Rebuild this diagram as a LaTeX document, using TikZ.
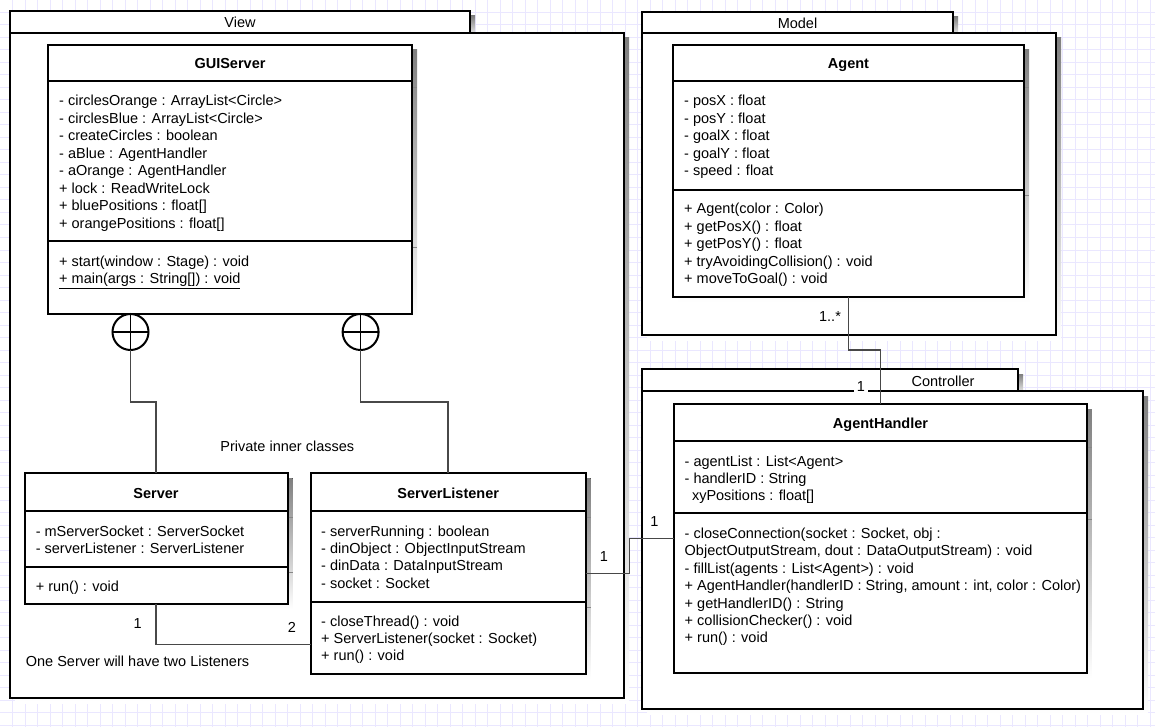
\documentclass[tikz,border=0pt]{standalone}
\usepackage{fontspec}
\setmainfont{Liberation Sans}

\definecolor{gridline}{RGB}{234,231,255}
\definecolor{shade}{RGB}{180,180,180}
\definecolor{wire}{RGB}{72,72,72}

% a column of class members, aligned on the baseline of its first line
\newcommand\members[1]{\begin{tabular}[t]{@{}l@{}}#1\end{tabular}}
% a framed box with its drop shadow: name, left, top, width, height
\newcommand\umlbox[5]{%
  \fill[shade] (#2+5,#3+5) rectangle (#2+#4+5,#3+#5+5);
  \node[box,minimum width=#4pt,minimum height=#5pt] (#1) at (#2,#3) {};}

\begin{document}
\begin{tikzpicture}[x=1pt,y=-1pt,
  font=\fontsize{14.5}{17.43}\selectfont,
  box/.style={draw=black,line width=2pt,fill=white,inner sep=0pt,outer sep=0pt,anchor=north west},
  sep/.style={black,line width=2pt},
  sepshade/.style={shade!75!black,line width=0.8pt},
  mem/.style={anchor=base west,inner sep=0pt},
  title/.style={anchor=base,inner sep=0pt,font=\fontsize{14.5}{17.43}\selectfont\bfseries},
  caption/.style={anchor=base,inner sep=0pt},
  mult/.style={anchor=base,inner sep=0pt},
  wire/.style={draw=wire,line width=1.6pt},
  nest/.style={circle,draw=black,line width=2pt,fill=white,minimum size=36pt,inner sep=0pt,outer sep=0pt},
  cross/.style={black,line width=1.6pt}]

% canvas and grid
\fill[white] (0,0) rectangle (1155,727);
\useasboundingbox (0,0) rectangle (1155,727);
\foreach \i in {1,...,92} \draw[gridline,line width=1pt] (\i*12.5,0) -- (\i*12.5,727);
\foreach \j in {1,...,58} \draw[gridline,line width=1pt] (0,\j*12.5) -- (1155,\j*12.5);

% ---------- packages ----------
\umlbox{viewtab}{10}{11}{460}{22}
\umlbox{view}{10}{33}{614}{665}
\node[caption] (viewname) at (240,28) {View};

\umlbox{modeltab}{642}{12}{311}{21}
\umlbox{model}{642}{33}{414}{302}
\node[caption] (modelname) at (797.5,28.3) {Model};

\umlbox{ctrltab}{642}{369}{376}{22}
\umlbox{ctrl}{642}{391}{501}{318}
\node[caption] (ctrlname) at (943,386.7) {Controller};

% ---------- classes ----------
% GUIServer
\umlbox{gui}{48}{45}{364}{269}
\draw[sepshade] (413,87) -- (417,87) (413,247) -- (417,247);
\draw[sep] (48,81) -- (412,81) (48,241) -- (412,241);
\node[title] (guiname) at (230,69) {GUIServer};
\node[mem] (guiattr) at (59,106) {\members{%
  - circlesOrange : ArrayList<Circle>\\
  - circlesBlue : ArrayList<Circle>\\
  - createCircles : boolean\\
  - aBlue : AgentHandler\\
  - aOrange : AgentHandler\\
  + lock : ReadWriteLock\\
  + bluePositions : float[]\\
  + orangePositions : float[]}};
\node[mem] (guiops) at (59,266) {\members{%
  + start(window : Stage) : void\\
  \underline{+ main(args : String[]) : void}}};

% Agent
\umlbox{agent}{673}{45}{351}{252}
\draw[sepshade] (1025,87) -- (1029,87) (1025,195.7) -- (1029,195.7);
\draw[sep] (673,81) -- (1024,81) (673,189.7) -- (1024,189.7);
\node[title] (agentname) at (848.5,69) {Agent};
\node[mem] (agentattr) at (684,106) {\members{%
  - posX : float\\
  - posY : float\\
  - goalX : float\\
  - goalY : float\\
  - speed : float}};
\node[mem] (agentops) at (684,214) {\members{%
  + Agent(color : Color)\\
  + getPosX() : float\\
  + getPosY() : float\\
  + tryAvoidingCollision() : void\\
  + moveToGoal() : void}};

% Server
\umlbox{server}{24.5}{473.3}{263}{131}
\draw[sepshade] (288.5,517) -- (292.5,517) (288.5,572.7) -- (292.5,572.7);
\draw[sep] (24.5,511) -- (287.5,511) (24.5,566.7) -- (287.5,566.7);
\node[title] (servername) at (156,498.3) {Server};
\node[mem] (serverattr) at (35.6,536) {\members{%
  - mServerSocket : ServerSocket\\
  - serverListener : ServerListener}};
\node[mem] (serverops) at (35.6,591) {\members{%
  + run() : void}};

% ServerListener
\umlbox{listener}{310.8}{473.3}{274.8}{200.7}
\draw[sepshade] (586.6,517) -- (590.6,517) (586.6,607.7) -- (590.6,607.7);
\draw[sep] (310.8,511) -- (585.6,511) (310.8,601.7) -- (585.6,601.7);
\node[title] (listenername) at (448.2,498.3) {ServerListener};
\node[mem] (listenerattr) at (321,536) {\members{%
  - serverRunning : boolean\\
  - dinObject : ObjectInputStream\\
  - dinData : DataInputStream\\
  - socket : Socket}};
\node[mem] (listenerops) at (321,626) {\members{%
  - closeThread() : void\\
  + ServerListener(socket : Socket)\\
  + run() : void}};

% AgentHandler
\umlbox{handler}{674.2}{404}{412.6}{269.3}
\draw[sepshade] (1087.8,447) -- (1091.8,447) (1087.8,519.3) -- (1091.8,519.3);
\draw[sep] (674.2,441) -- (1086.8,441) (674.2,513.3) -- (1086.8,513.3);
\node[title] (handlername) at (880.5,428.3) {AgentHandler};
\node[mem] (handlerattr) at (684.5,466) {\members{%
  - agentList : List<Agent>\\
  - handlerID : String\\
  \hspace*{7.3pt}xyPositions : float[]}};
\node[mem] (handlerops) at (684.5,538.3) {\members{%
  - closeConnection(socket : Socket, obj :\\
  ObjectOutputStream, dout : DataOutputStream) : void\\
  - fillList(agents : List<Agent>) : void\\
  + AgentHandler(handlerID : String, amount : int, color : Color)\\
  + getHandlerID() : String\\
  + collisionChecker() : void\\
  + run() : void}};

% ---------- nesting of the inner classes ----------
\coordinate (nestbend) at (0,401.7);
\node[nest] (nestA) at (130.5,332) {};
\node[nest] (nestB) at (360.6,332) {};
\draw[cross] (nestA.north) -- (nestA.south) (nestA.west) -- (nestA.east);
\draw[cross] (nestB.north) -- (nestB.south) (nestB.west) -- (nestB.east);
\draw[wire] (nestA.south) -- (nestA.south |- nestbend) -| (server.north);
\draw[wire] (nestB.south) -- (nestB.south |- nestbend) -| (listener.north);
\node[caption,anchor=base west] (innernote) at (220.2,451.7) {Private inner classes};

% ---------- associations ----------
\coordinate (listenbend) at (0,644.3);
\draw[wire] (server.south) |- (listener.west |- listenbend);
\node[mult] (m1) at (137.6,628.3) {1};
\node[mult] (m2) at (291.8,632.3) {2};
\node[caption,anchor=base west] (twonote) at (25.7,666.7) {One Server will have two Listeners};

\coordinate (handlerbend) at (629.5,0);
\draw[wire] (listener.east) -- (listener.east -| handlerbend) -- (handlerbend |- handler.west) -- (handler.west);
\node[mult] (m3) at (604,561.7) {1};
\node[mult] (m4) at (654.4,526.7) {1};

\coordinate (agentbend) at (0,350);
\draw[wire] (agent.south) -- (agent.south |- agentbend) -| (handler.north);
\node[mult] (m5) at (830,321.7) {1..*};
\node[mult,fill=white,inner xsep=3pt,inner ysep=1.5pt] (m6) at (861,391) {1};

\end{tikzpicture}
\end{document}
